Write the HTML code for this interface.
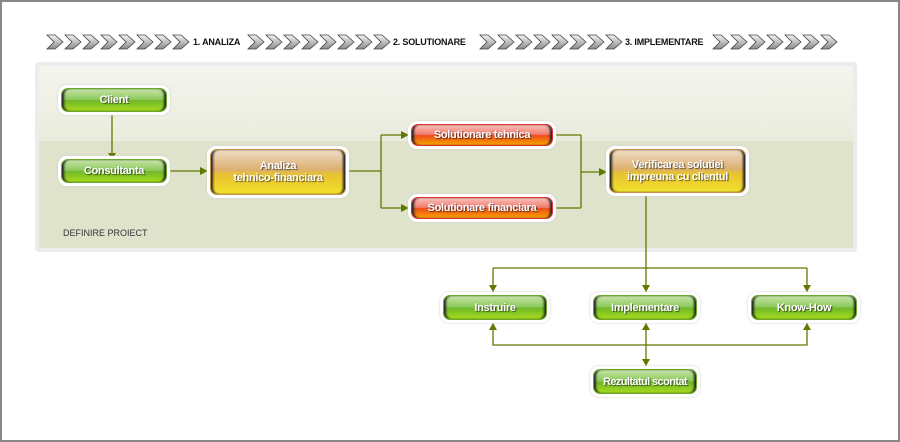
<!DOCTYPE html>
<html><head><meta charset="utf-8"><style>
body{margin:0;width:900px;height:442px;background:#fff;position:relative;overflow:hidden;font-family:"Liberation Sans",sans-serif}
.frame{position:absolute;left:0;top:0;width:896px;height:438px;border:2px solid #888}
.panel{position:absolute;left:35px;top:62px;width:814px;height:182px;border:4px solid #ececec;border-radius:4px;background:#dfe3cc}
.panel .top{position:absolute;left:0;top:0;right:0;height:75px;background:linear-gradient(#f4f5ee,#e9ecdc)}
.n{position:absolute;border-radius:9px;background:#fff;box-shadow:0 0 2px #ccc}
.n .i{position:absolute;left:3px;top:3px;right:3px;bottom:3px;border-radius:7px;color:#fff;font-weight:bold;font-size:11px;letter-spacing:-0.3px;white-space:nowrap;display:flex;align-items:center;justify-content:center;text-align:center;line-height:12px;text-shadow:1px 1px 1px rgba(0,0,0,.6);box-shadow:-3px 0 2px -1px #222 inset,3px 0 2px -1px #222 inset}
.g .i{background:linear-gradient(#c6e4a8 0%,#8cc95a 48%,#6fb82a 52%,#a8dc1c 100%);border:1px solid #6aa82a}
.r .i{background:linear-gradient(#f9c2bc 0%,#f07a6c 48%,#ee4a1c 52%,#f8a400 100%);border:1px solid #e03030}
.y .i{background:linear-gradient(#f0dcc6 0%,#dcb070 45%,#e8c232 55%,#f2e02a 100%);border:1px solid #c8904a}
.lbl{position:absolute;font-size:9px;font-weight:bold;color:#111;letter-spacing:-0.2px;white-space:nowrap}
</style></head><body>
<div class="frame"></div>
<svg style="position:absolute;left:0;top:0" width="900" height="442">
<defs><linearGradient id="cg" x1="0" y1="0" x2="0" y2="1"><stop offset="0" stop-color="#f4f4f4"/><stop offset="1" stop-color="#8a8a8a"/></linearGradient>
<g id="ch"><path d="M1,35 L9,35 L17,42 L9,49 L1,49 L8,42 Z" fill="url(#cg)" stroke="#444" stroke-width="0.8"/></g></defs>
<g transform="translate(46,0)"><use href="#ch" x="0"/><use href="#ch" x="18"/><use href="#ch" x="36"/><use href="#ch" x="54"/><use href="#ch" x="72"/><use href="#ch" x="90"/><use href="#ch" x="108"/><use href="#ch" x="126"/></g>
<g transform="translate(247,0)"><use href="#ch" x="0"/><use href="#ch" x="18"/><use href="#ch" x="36"/><use href="#ch" x="54"/><use href="#ch" x="72"/><use href="#ch" x="90"/><use href="#ch" x="108"/><use href="#ch" x="126"/></g>
<g transform="translate(479,0)"><use href="#ch" x="0"/><use href="#ch" x="18"/><use href="#ch" x="36"/><use href="#ch" x="54"/><use href="#ch" x="72"/><use href="#ch" x="90"/><use href="#ch" x="108"/><use href="#ch" x="126"/></g>
<g transform="translate(712,0)"><use href="#ch" x="0"/><use href="#ch" x="18"/><use href="#ch" x="36"/><use href="#ch" x="54"/><use href="#ch" x="72"/><use href="#ch" x="90"/><use href="#ch" x="108"/></g>
</svg>
<div class="lbl" style="left:193px;top:37px">1. ANALIZA</div>
<div class="lbl" style="left:393px;top:37px">2. SOLUTIONARE</div>
<div class="lbl" style="left:625px;top:37px">3. IMPLEMENTARE</div>
<div class="panel"><div class="top"></div>
<div style="position:absolute;left:24px;top:162px;font-size:9px;color:#333">DEFINIRE PROIECT</div></div>
<svg style="position:absolute;left:0;top:0" width="900" height="442" fill="none" stroke="#5f7a00" stroke-width="1.3">
<path d="M112,114V156M170,171H207M349,171H381M381,135V208M381,135H408M381,208H408M556,135H581M556,208H581M581,135V208M581,172H606M646,196V292M493,268H807M493,268V292M807,268V292M493,323V345H807V323M646,323V366"/>
<g fill="#5f7a00" stroke="none">
<path d="M108,153L116,153L112,160Z"/>
<path d="M200,167L200,175L208,171Z"/>
<path d="M401,131L401,139L409,135Z"/><path d="M401,204L401,212L409,208Z"/>
<path d="M599,168L599,176L607,172Z"/>
<path d="M642,285L650,285L646,292Z"/><path d="M489,285L497,285L493,292Z"/><path d="M803,285L811,285L807,292Z"/>
<path d="M489,330L497,330L493,323Z"/><path d="M803,330L811,330L807,323Z"/><path d="M642,330L650,330L646,323Z"/>
<path d="M642,359L650,359L646,366Z"/>
</g></svg>
<div class="n g" style="left:58px;top:85px;width:112px;height:30px"><div class="i">Client</div></div>
<div class="n g" style="left:58px;top:156px;width:112px;height:30px"><div class="i">Consultanta</div></div>
<div class="n y" style="left:207px;top:146px;width:142px;height:52px"><div class="i">Analiza<br>tehnico-financiara</div></div>
<div class="n r" style="left:408px;top:121px;width:148px;height:28px"><div class="i">Solutionare tehnica</div></div>
<div class="n r" style="left:408px;top:194px;width:148px;height:28px"><div class="i">Solutionare financiara</div></div>
<div class="n y" style="left:606px;top:146px;width:143px;height:50px"><div class="i">Verificarea solutiei<br>impreuna cu clientul</div></div>
<div class="n g" style="left:440px;top:292px;width:110px;height:31px"><div class="i">Instruire</div></div>
<div class="n g" style="left:590px;top:292px;width:110px;height:31px"><div class="i">Implementare</div></div>
<div class="n g" style="left:748px;top:292px;width:112px;height:31px"><div class="i">Know-How</div></div>
<div class="n g" style="left:590px;top:366px;width:110px;height:31px"><div class="i" style="letter-spacing:-0.6px">Rezultatul scontat</div></div>
</body></html>
